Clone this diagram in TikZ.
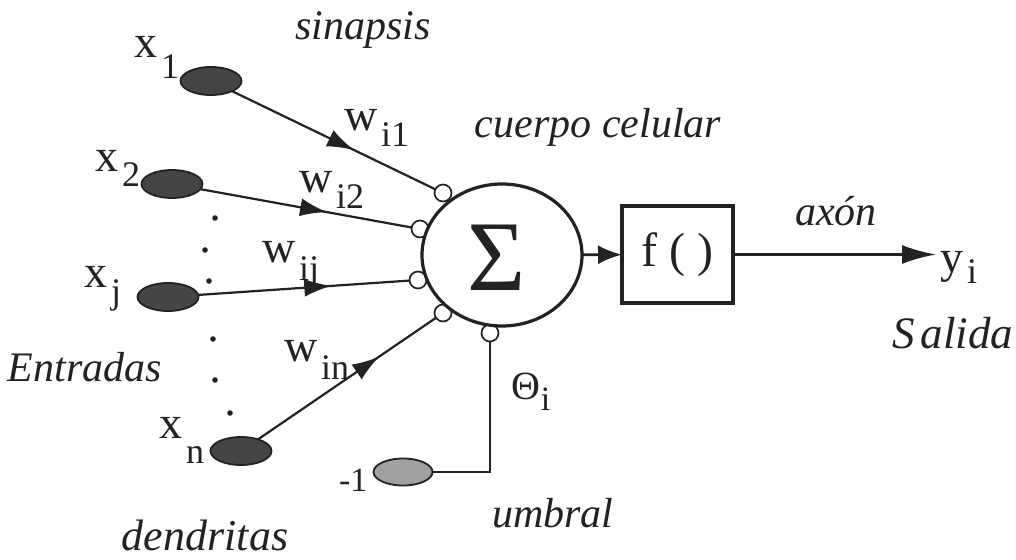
\documentclass[tikz,border=0pt]{standalone}
\usepackage{fontspec}
\setmainfont{Liberation Serif}
\usetikzlibrary{shapes.geometric,arrows.meta,decorations.markings}
\definecolor{ink}{HTML}{222222}
\definecolor{cellfill}{HTML}{454545}
\definecolor{biasfill}{HTML}{A0A0A0}
\newcommand\vsub[3][19pt]{{\fontsize{46}{50}\selectfont #2}\kern4pt\raisebox{-#1}{\fontsize{36}{40}\selectfont #3}}
\newcommand\itl{\fontsize{42}{46}\selectfont\itshape}
\begin{document}
\begin{tikzpicture}[x=1pt,y=-1pt,
  every node/.style={inner sep=0pt,outer sep=0pt,text=ink},
  inputcell/.style={ellipse,draw=ink,fill=cellfill,line width=1.8pt,minimum width=61pt,minimum height=28pt},
  biascell/.style={ellipse,draw=ink,fill=biasfill,line width=1.8pt,minimum width=59pt,minimum height=27pt},
  syn/.style={circle,draw=ink,fill=white,line width=1.7pt,minimum size=17pt},
  wire/.style={draw=ink,line width=2.2pt},
  midarrow/.style={postaction={decorate},decoration={markings,mark=at position #1 with {\arrow{Latex[length=27pt,width=18pt]}}}},
  lab/.style={anchor=base west},
  itlab/.style={font=\itl}]
\useasboundingbox[fill=white] (0,0) rectangle (1016,559);

% synapses
\node[syn] (s1) at (443,193) {};
\node[syn] (s2) at (420,229) {};
\node[syn] (s3) at (418,280) {};
\node[syn] (s4) at (443,313) {};
\node[syn] (s5) at (490,333) {};

% cell body
\node[ellipse,draw=ink,fill=white,line width=3.2pt,minimum width=160pt,minimum height=142pt] (sigma) at (502,255) {};
\node (sig) at (497,258) {\fontsize{100}{104}\selectfont Σ};

% activation box
\node[draw=ink,line width=3.8pt,minimum width=111pt,minimum height=97pt] (fbox) at (677.5,254.5) {\fontsize{48}{52}\selectfont f ( )};

% inputs
\node[inputcell] (x1) at (211,81) {};
\node[inputcell] (x2) at (172,184) {};
\node[inputcell] (xj) at (168,297) {};
\node[inputcell] (xn) at (241,451) {};
\node[biascell] (bias) at (403,472) {};

% connectors
\draw[wire,midarrow=0.6] (x1) -- (s1);
\draw[wire,midarrow=0.6] (x2) -- (s2);
\draw[wire,midarrow=0.63] (xj) -- (s3);
\draw[wire,midarrow=0.68] (xn) -- (s4);
\draw[wire] (bias) -| (s5);
\draw[wire,line width=2.8pt,-{Latex[length=24pt,width=19pt]}] (sigma) -- (fbox);
\coordinate (yend) at (936,254.5);
\draw[wire,line width=2.8pt,-{Latex[length=34pt,width=19pt]}] (fbox.east) -- (yend);

% dots
\foreach \p in {(215,218),(205,250),(209,281),(213,339),(215,380),(230,413)}
  \fill[ink] \p circle (2.8pt);

% labels
\node[lab] (lx1) at (134,58) {\vsub[21pt]{x}{1}};
\node[lab] (lx2) at (95,171) {\vsub[15pt]{x}{2}};
\node[lab] (lxj) at (84,287) {\vsub[16pt]{x}{j}};
\node[lab] (lxn) at (159,438) {\vsub[25pt]{x}{n}};
\node[lab] (lw1) at (344,130) {\vsub[17pt]{w}{i1}};
\node[lab] (lw2) at (299,192) {\vsub[16pt]{w}{i2}};
\node[lab] (lwj) at (262,262) {\vsub[18pt]{w}{ij}};
\node[lab] (lwn) at (284,361) {\vsub[18pt]{w}{in}};
\node[lab] (lyi) at (940,272) {\vsub[11pt]{y}{i}};
\node[lab] (lth) at (511,399) {{\fontsize{40}{44}\selectfont Θ}\kern1pt\raisebox{-11pt}{\fontsize{34}{38}\selectfont i}};
\node[lab] (lm1) at (339,491) {\fontsize{34}{38}\selectfont -1};

\node[itlab] (tsin) at (363,30) {sinapsis};
\node[itlab] (tcue) at (598,127) {cuerpo celular};
\node[itlab] (taxon) at (836,211) {axón};
\node[itlab,font=\fontsize{45}{49}\selectfont\itshape] (tsal) at (953,333) {S\kern0.12em alida};
\node[itlab] (tent) at (85,367) {Entradas};
\node[itlab,font=\fontsize{44}{48}\selectfont\itshape] (tden) at (205,535) {dendritas};
\node[itlab] (tumb) at (553,513) {umbral};
\end{tikzpicture}
\end{document}
